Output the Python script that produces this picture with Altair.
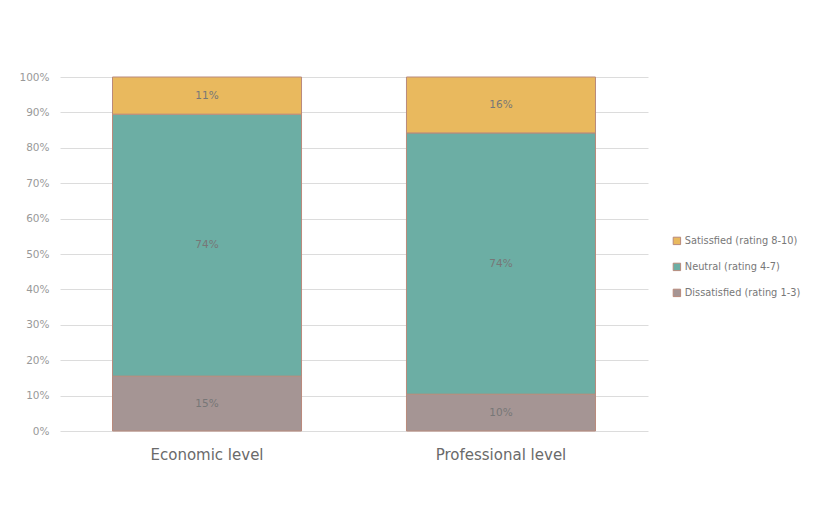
import altair as alt
import pandas as pd

levels = ["Economic level", "Professional level"]
categories = ["Dissatisfied (rating 1-3)", "Neutral (rating 4-7)", "Satissfied (rating 8-10)"]
economic = [15.5, 74.0, 10.5]
professional = [10.4, 73.8, 15.8]
economic_labels = ["15%", "74%", "11%"]
professional_labels = ["10%", "74%", "16%"]
legend_order = ["Satissfied (rating 8-10)", "Neutral (rating 4-7)", "Dissatisfied (rating 1-3)"]
colors = ["#E9B95E", "#6CAEA4", "#A59594"]
y_ticks = [0, 10, 20, 30, 40, 50, 60, 70, 80, 90, 100]

rows = []
for lvl, vals, labs in [(levels[0], economic, economic_labels), (levels[1], professional, professional_labels)]:
    for i, (c, v, l) in enumerate(zip(categories, vals, labs)):
        rows.append({"level": lvl, "category": c, "value": v, "label": l, "ord": i})
df = pd.DataFrame(rows)

FONT = "DejaVu Sans"

base = alt.Chart(df).transform_stack(
    stack="value", as_=["y0", "y1"], groupby=["level"], sort=[alt.SortField("ord")]
).transform_calculate(mid="(datum.y0 + datum.y1) / 2")

yaxis = alt.Axis(values=y_ticks, labelExpr="datum.value + '%'", labelOverlap=False, tickCount=11,
                 labelFontSize=10.5, labelColor="#999999", labelFont=FONT,
                 ticks=False, domain=False, gridColor="#dcdcdc", labelPadding=11)
yscale = alt.Scale(domain=[0, 100], nice=False)

x = alt.X("level:N", sort=levels, title=None,
          scale=alt.Scale(paddingInner=0.357, paddingOuter=0.1786),
          axis=alt.Axis(labelAngle=0, labelFontSize=15, labelColor="#6a6a6a", labelFont=FONT,
                        ticks=False, domain=False, labelPadding=16))

bars = base.mark_bar(stroke="#B98A7C", strokeWidth=1).encode(
    x=x,
    y=alt.Y("y0:Q", title=None, scale=yscale, axis=yaxis),
    y2="y1:Q",
    color=alt.Color("category:N",
                    scale=alt.Scale(domain=legend_order, range=colors),
                    legend=alt.Legend(title=None, orient="none", legendX=612, legendY=159,
                                      symbolType="square", symbolSize=55, symbolStrokeColor="#B98A7C",
                                      symbolStrokeWidth=1, labelFontSize=9.8, labelColor="#777777",
                                      labelFont=FONT, rowPadding=14, labelOffset=3)),
)

text = base.mark_text(fontSize=10.5, color="#777777", font=FONT).encode(
    x=alt.X("level:N", sort=levels, title=None),
    y=alt.Y("mid:Q", title=None, scale=yscale, axis=yaxis),
    text="label:N",
)

chart = alt.layer(bars, text).properties(
    width=588, height=354,
    autosize=alt.AutoSizeParams(type="none"),
    padding={"left": 52, "top": 69, "right": 156, "bottom": 65},
    background="white",
).configure_view(stroke=None).configure_legend(labelLimit=300)

chart.save("out.html", embed_options={"renderer": "svg", "actions": False})
